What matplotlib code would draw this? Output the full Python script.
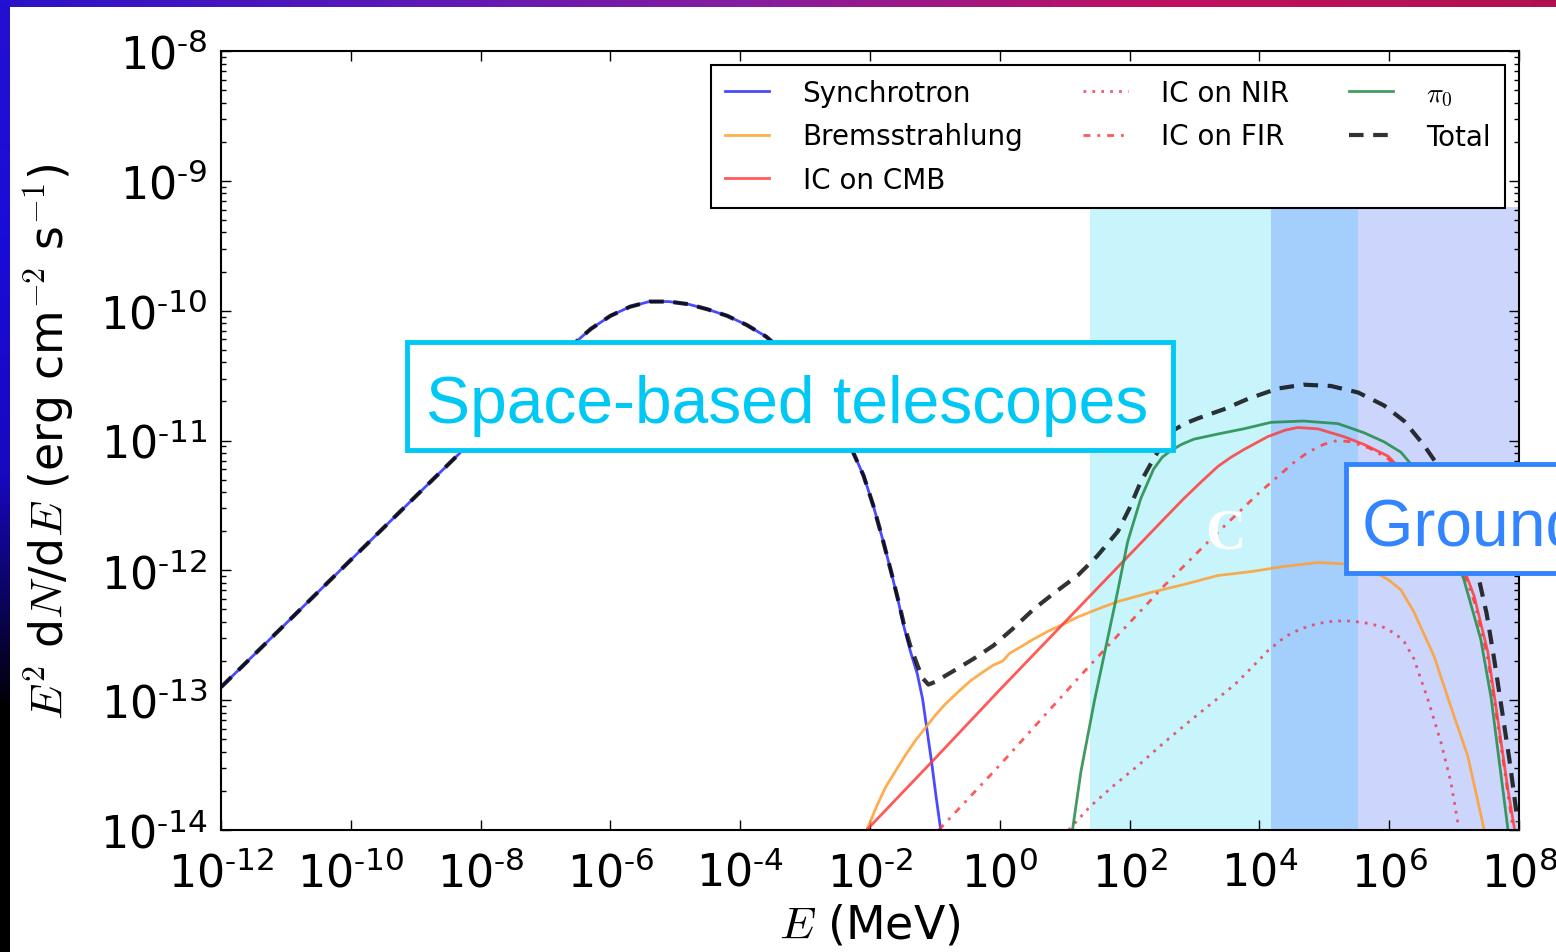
import numpy as np
import matplotlib
matplotlib.use("Agg")
import matplotlib.pyplot as plt
from matplotlib.patches import Rectangle
from matplotlib.colors import LinearSegmentedColormap
from matplotlib.ticker import FuncFormatter, LogLocator, NullLocator

plt.rcParams['font.family'] = ['DejaVu Sans']
plt.rcParams['mathtext.fontset'] = 'cm'

# values, as log10(E / MeV) and log10(E^2 dN/dE)
synch_logE = [-12, -11, -10, -9, -8, -7.5, -7, -6.6, -6.3, -6.0, -5.7, -5.4, -5.1,
              -4.8, -4.5, -4.2, -3.9, -3.6, -3.3, -3.0, -2.7, -2.45, -2.27, -2.1,
              -1.95, -1.8, -1.68, -1.55, -1.48, -1.38, -1.27, -1.19, -1.13, -1.05,
              -0.98, -0.91]
synch_logF = [-12.90, -12.41, -11.92, -11.43, -10.94, -10.70, -10.46, -10.27, -10.14,
              -10.04, -9.97, -9.93, -9.93, -9.95, -9.99, -10.04, -10.11, -10.20,
              -10.33, -10.50, -10.72, -10.92, -11.08, -11.27, -11.50, -11.77, -12.00,
              -12.27, -12.43, -12.62, -12.80, -12.99, -13.20, -13.48, -13.75, -14.0]

brems_logE = [-2.05, -1.9, -1.76, -1.6, -1.45, -1.3, -1.14, -1.0, -0.84, -0.65, -0.45,
              -0.25, -0.10, 0.04, 0.15, 0.32, 0.52, 0.74, 1.0, 1.20, 1.5, 1.82, 2.33,
              2.83, 3.36, 3.87, 4.38, 4.90, 5.30, 5.55, 5.76, 5.98, 6.18, 6.38, 6.69,
              6.95, 7.21, 7.46]
brems_logF = [-14.0, -13.82, -13.67, -13.54, -13.42, -13.31, -13.21, -13.12, -13.03,
              -12.94, -12.85, -12.78, -12.73, -12.70, -12.64, -12.59, -12.53, -12.47,
              -12.41, -12.36, -12.30, -12.24, -12.17, -12.11, -12.04, -12.01, -11.97,
              -11.94, -11.95, -11.97, -12.01, -12.07, -12.15, -12.32, -12.66, -13.05,
              -13.43, -13.99]

cmb_logE = [-2.07, -1.0, 0.0, 1.0, 2.0, 2.5, 2.83, 3.1, 3.36, 3.56, 3.76, 4.13, 4.4,
            4.59, 4.90, 5.30, 5.61, 5.98, 6.3, 6.6, 6.9, 7.1, 7.31, 7.52, 7.68, 7.83,
            7.93]
cmb_logF = [-14.01, -13.45, -12.92, -12.40, -11.88, -11.62, -11.45, -11.32, -11.20,
            -11.13, -11.07, -10.97, -10.92, -10.90, -10.91, -10.97, -11.03, -11.12,
            -11.28, -11.48, -11.72, -11.92, -12.20, -12.63, -13.17, -13.69, -13.99]

nir_logE = [1.06, 1.39, 1.75, 2.14, 2.5, 2.88, 3.25, 3.62, 3.9, 4.13, 4.4, 4.64, 4.9,
            5.15, 5.41, 5.7, 5.92, 6.1, 6.23, 6.38, 6.60, 6.80, 6.95, 7.07]
nir_logF = [-14.0, -13.82, -13.66, -13.50, -13.34, -13.18, -13.03, -12.88, -12.74,
            -12.62, -12.51, -12.45, -12.41, -12.39, -12.39, -12.41, -12.44, -12.49,
            -12.55, -12.68, -13.00, -13.33, -13.63, -13.98]

fir_logE = [-0.94, 0.0, 0.74, 1.3, 1.82, 2.53, 3.25, 3.98, 4.53, 4.75, 4.99, 5.2,
            5.41, 5.7, 5.98, 6.3, 6.6, 6.9, 7.1, 7.31, 7.52, 7.68, 7.83, 7.91]
fir_logF = [-14.0, -13.50, -13.09, -12.78, -12.50, -12.12, -11.76, -11.41, -11.17,
            -11.09, -11.03, -11.00, -11.01, -11.06, -11.14, -11.30, -11.50, -11.75,
            -11.95, -12.24, -12.68, -13.21, -13.72, -14.0]

pi0_logE = [1.12, 1.25, 1.46, 1.63, 1.80, 1.97, 2.17, 2.37, 2.5, 2.63, 2.8, 2.99,
            3.36, 3.76, 4.18, 4.68, 5.21, 5.61, 5.92, 6.18, 6.4, 6.64, 6.9, 7.15,
            7.41, 7.57, 7.69, 7.78, 7.83]
pi0_logF = [-14.0, -13.55, -13.0, -12.6, -12.2, -11.78, -11.45, -11.22, -11.13,
            -11.08, -11.03, -10.99, -10.95, -10.91, -10.86, -10.85, -10.87, -10.94,
            -11.01, -11.09, -11.22, -11.45, -11.72, -12.07, -12.53, -12.98, -13.45,
            -13.80, -14.0]

total_logE = [-12, -11, -10, -9, -8, -7.5, -7, -6.6, -6.3, -6.0, -5.7, -5.4, -5.1,
              -4.8, -4.5, -4.2, -3.9, -3.6, -3.3, -3.0, -2.7, -2.45, -2.27, -2.1,
              -1.95, -1.8, -1.68, -1.55, -1.48, -1.38, -1.27, -1.19, -1.10, -1.0,
              -0.9, -0.73, -0.4, -0.10, 0.2, 0.52, 0.85, 1.20, 1.5, 1.82, 2.0, 2.17,
              2.37, 2.52, 2.68, 2.85, 3.05, 3.45, 3.82, 4.28, 4.68, 5.10, 5.52, 5.92,
              6.23, 6.54, 6.72, 6.9, 7.05, 7.2, 7.37, 7.5, 7.61, 7.75, 7.85, 7.92,
              7.98]
total_logF = [-12.90, -12.41, -11.92, -11.43, -10.94, -10.70, -10.46, -10.27, -10.14,
              -10.04, -9.97, -9.93, -9.93, -9.95, -9.99, -10.04, -10.11, -10.20,
              -10.33, -10.50, -10.72, -10.92, -11.08, -11.27, -11.50, -11.77, -12.00,
              -12.26, -12.41, -12.58, -12.73, -12.83, -12.88, -12.86, -12.83, -12.78,
              -12.68, -12.58, -12.45, -12.30, -12.17, -12.04, -11.89, -11.70, -11.52,
              -11.32, -11.14, -11.02, -10.92, -10.87, -10.83, -10.76, -10.68, -10.60,
              -10.57, -10.58, -10.63, -10.73, -10.85, -11.04, -11.17, -11.35, -11.55,
              -11.78, -12.04, -12.33, -12.66, -13.12, -13.45, -13.71, -13.94]

# telescope energy bands (log10 MeV) and their upper flux edge
band_edges = [1.39, 4.18, 5.52, 8.0]
band_colors = ['#c8f4fc', '#a4cefc', '#ccd6fc']
band_top = -9.2


def arr(v):
    return 10.0 ** np.array(v)


def pow10(v, pos):
    k = int(round(np.log10(v)))
    if k < 0:
        return r'$\mathdefault{10^{\text{-}%d}}$' % (-k)
    return r'$\mathdefault{10^{%d}}$' % k


fig = plt.figure(figsize=(15.56, 9.53), dpi=100)

# coloured frame around the slide
bg = fig.add_axes([0, 0, 1, 1], zorder=-10)
bg.axis('off')
bg.set_xlim(0, 1556)
bg.set_ylim(953, 0)
top_cmap = LinearSegmentedColormap.from_list('top', ['#2a12c8', '#5a18b8', '#8a1c9c', '#c01060', '#b01050'])
bg.imshow(np.linspace(0, 1, 256)[None, :], cmap=top_cmap, aspect='auto', extent=(0, 1556, 8, 0))
left_cmap = LinearSegmentedColormap.from_list('left', ['#2410d0', '#1a0cd8', '#1808c0', '#000000', '#000000'])
bg.imshow(np.linspace(0, 1, 256)[:, None], cmap=left_cmap, aspect='auto', extent=(0, 10, 953, 0))

ax = fig.add_axes([221 / 1556, 1 - 831 / 953, 1298 / 1556, 779 / 953])

for i, c in enumerate(band_colors):
    ax.fill_between([10.0 ** band_edges[i], 10.0 ** band_edges[i + 1]], 1e-14, 10.0 ** band_top,
                    color=c, lw=0, zorder=0)

ax.plot(arr(synch_logE), arr(synch_logF), color='#4a4aff', lw=2, label='Synchrotron')
ax.plot(arr(brems_logE), arr(brems_logF), color='#ffa030', lw=2, alpha=0.85, label='Bremsstrahlung')
ax.plot(arr(cmb_logE), arr(cmb_logF), color='#ff3c3c', lw=2, alpha=0.85, label='IC on CMB')
ax.plot(arr(nir_logE), arr(nir_logF), color='#e8405a', lw=2, ls=':', dashes=(1, 2.2),
        alpha=0.85, label='IC on NIR')
ax.plot(arr(fir_logE), arr(fir_logF), color='#ff3c3c', lw=2, ls='-.', dashes=(2.5, 2.5, 1, 2.5),
        alpha=0.85, label='IC on FIR')
ax.plot(arr(pi0_logE), arr(pi0_logF), color='#1f8a45', lw=2, alpha=0.85, label=r'$\pi_0$')
ax.plot(arr(total_logE), arr(total_logF), color='k', lw=3, ls='--', dashes=(3.5, 2.3), alpha=0.8,
        label='Total')

ax.set_xscale('log')
ax.set_yscale('log')
ax.set_xlim(1e-12, 1e8)
ax.set_ylim(1e-14, 1e-8)
ax.set_xticks([10.0 ** k for k in range(-12, 9, 2)])
ax.xaxis.set_minor_locator(NullLocator())
ax.yaxis.set_major_locator(LogLocator(base=10, numticks=20))
ax.yaxis.set_minor_locator(LogLocator(base=10, subs=np.arange(2, 10), numticks=20))
ax.xaxis.set_major_formatter(FuncFormatter(pow10))
ax.yaxis.set_major_formatter(FuncFormatter(pow10))
ax.tick_params(which='both', direction='in', top=True, right=True, labelsize=32)
ax.tick_params(which='major', length=7, width=1)
ax.tick_params(which='minor', length=3.5, width=1)
ax.tick_params(axis='x', pad=15)
ax.tick_params(axis='y', pad=10)
for s in ax.spines.values():
    s.set_linewidth(1.5)

ax.set_xlabel(r'$E$ (MeV)', fontsize=33, labelpad=5)
ax.set_ylabel(r'$E^2$ d$N$/d$E$ (erg cm$^{-2}$ s$^{-1}$)', fontsize=33, labelpad=17)

leg = ax.legend(ncol=3, loc='upper right', bbox_to_anchor=(1 - 14 / 1298, 1 - 14 / 779),
                borderaxespad=0, fontsize=20, handlelength=1.6, handletextpad=1.2,
                columnspacing=2.15, labelspacing=0.56, borderpad=0.5, fancybox=False,
                framealpha=1, edgecolor='k')
leg.get_frame().set_linewidth(1.5)

# slide annotations on top of the chart
ov = fig.add_axes([0, 0, 1, 1], zorder=5)
ov.axis('off')
ov.set_xlim(0, 1556)
ov.set_ylim(953, 0)
ov.add_patch(Rectangle((407, 343), 766, 108, fc='white', ec='#00c8f5', lw=3.5))
ov.text(787, 423, 'Space-based telescopes', color='#00c8f5', fontsize=47.5,
        family='Liberation Sans', ha='center', va='baseline')
ov.add_patch(Rectangle((1346, 465), 500, 109, fc='white', ec='#3385ff', lw=3.5))
ov.text(1362, 546, 'Ground-based telescopes', color='#3385ff', fontsize=47.5,
        family='Liberation Sans', ha='left', va='baseline')
ov.text(1225, 535, 'C', color='white', fontsize=40, family='Liberation Serif',
        weight='bold', ha='center', va='center')

fig.savefig('out.png', dpi=100)
